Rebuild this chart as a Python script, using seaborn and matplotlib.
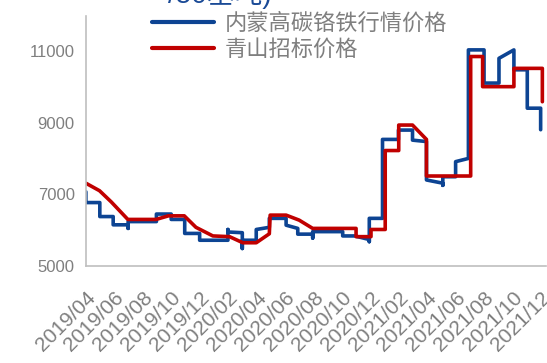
import pandas as pd
import matplotlib.pyplot as plt
import seaborn as sns

# months since 2019/04 and price (yuan/ton)
blue_month = [0, 0, 0.98, 0.98, 1.92, 1.92, 2.97, 2.97, 2.97, 4.96, 4.96, 6.0, 6.0, 6.95, 6.95,
              8.0, 8.0, 9.99, 9.99, 9.99, 11.0, 11.0, 11.0, 11.98, 11.98, 12.9, 12.9, 14.08, 14.08,
              14.9, 14.9, 15.95, 15.95, 15.95, 18.06, 18.06, 18.9, 19.93, 19.93, 19.93, 20.86, 20.86,
              21.98, 21.98, 22.97, 22.97, 23.95, 23.95, 25.1, 25.1, 25.1, 26.0, 26.0, 26.9, 26.9,
              28.0, 28.0, 29.05, 29.05, 30.1, 30.1, 31.04, 31.04, 31.98, 31.98]
blue_price = [7070, 6770, 6770, 6380, 6380, 6150, 6150, 6050, 6240, 6240, 6450, 6450, 6300, 6300, 5910,
              5910, 5720, 5720, 6020, 5950, 5930, 5490, 5720, 5720, 6020, 6080, 6330, 6330, 6140,
              6050, 5890, 5890, 5780, 5960, 5960, 5840, 5840, 5740, 5680, 6330, 6330, 8530,
              8530, 8790, 8790, 8510, 8470, 7400, 7310, 7250, 7490, 7490, 7910, 8000, 11025,
              11025, 10100, 10100, 10790, 11025, 10470, 10470, 9400, 9400, 8800]

red_month = [0, 0.96, 1.78, 2.95, 4.94, 5.8, 6.92, 7.74, 8.93, 10.1, 11.04, 11.98, 12.9, 12.96,
             14.08, 15.0, 15.95, 19.0, 19.0, 20.05, 20.05, 21.05, 21.05, 22.0, 22.0, 22.97, 23.95,
             23.95, 27.06, 27.06, 27.9, 27.9, 30.1, 30.1, 32.1, 32.1]
red_price = [7310, 7100, 6790, 6300, 6300, 6400, 6400, 6080, 5840, 5820, 5650, 5650, 5900, 6420,
             6420, 6280, 6050, 6050, 5820, 5820, 6020, 6020, 8220, 8220, 8930, 8930, 8530,
             7510, 7510, 10840, 10840, 10000, 10000, 10510, 10510, 9580]

tick_labels = ["2019/04", "2019/06", "2019/08", "2019/10", "2019/12", "2020/02", "2020/04",
               "2020/06", "2020/08", "2020/10", "2020/12", "2021/02", "2021/04", "2021/06",
               "2021/08", "2021/10", "2021/12"]

name_blue = "内蒙高碳铬铁行情价格"
name_red = "青山招标价格"

df = pd.concat([
    pd.DataFrame({"month": blue_month, "price": blue_price, "series": name_blue}),
    pd.DataFrame({"month": red_month, "price": red_price, "series": name_red}),
])

sns.set_style("white")
plt.rcParams['font.family'] = ['Liberation Sans', 'Noto Sans CJK SC', 'DejaVu Sans']

fig = plt.figure(figsize=(5.47, 3.63), dpi=100)
ax = fig.add_axes([0.157, 0.267, 0.841, 0.689])

colors = {name_blue: "#0d4493", name_red: "#c00000"}
sns.lineplot(data=df, x="month", y="price", hue="series", estimator=None, sort=False,
             palette=colors, linewidth=2.6, legend=False, ax=ax)

ax.set_xlim(0, 32.35)
ax.set_ylim(5000, 11970)
ax.set_yticks([5000, 7000, 9000, 11000])
ax.set_xticks(range(0, 33, 2))
ax.set_xticklabels(tick_labels, rotation=45, ha="right", va="top", rotation_mode="anchor")
ax.set_xlabel("")
ax.set_ylabel("")

for s in ["top", "right"]:
    ax.spines[s].set_visible(False)
for s in ["left", "bottom"]:
    ax.spines[s].set_color("#bfbfbf")
    ax.spines[s].set_linewidth(1.2)
ax.tick_params(axis="both", colors="#bfbfbf", length=6, width=1.2, direction="out")
ax.tick_params(axis="y", labelcolor="#7f7f7f", labelsize=12, pad=2)
ax.tick_params(axis="x", labelcolor="#7f7f7f", labelsize=15, pad=10)

handles = [plt.Line2D([], [], color=colors[name_blue], lw=3),
           plt.Line2D([], [], color=colors[name_red], lw=3)]
leg = ax.legend(handles, [name_blue, name_red], loc="upper left", bbox_to_anchor=(0.1, 1.095),
                frameon=False, handlelength=2.8, handletextpad=0.5, labelspacing=0.1,
                prop={"family": ["Noto Sans CJK SC", "DejaVu Sans"], "size": 16})
for t in leg.get_texts():
    t.set_color("#7f7f7f")

# unit label, cut off at the top edge as in the source image
fig.text(0.308, 1.016, "/50基吨)", color="#1a4a96", va="center", ha="left", fontsize=20,
         family=["Liberation Sans", "Noto Sans CJK SC"], zorder=0)

fig.savefig("out.png", dpi=100)
